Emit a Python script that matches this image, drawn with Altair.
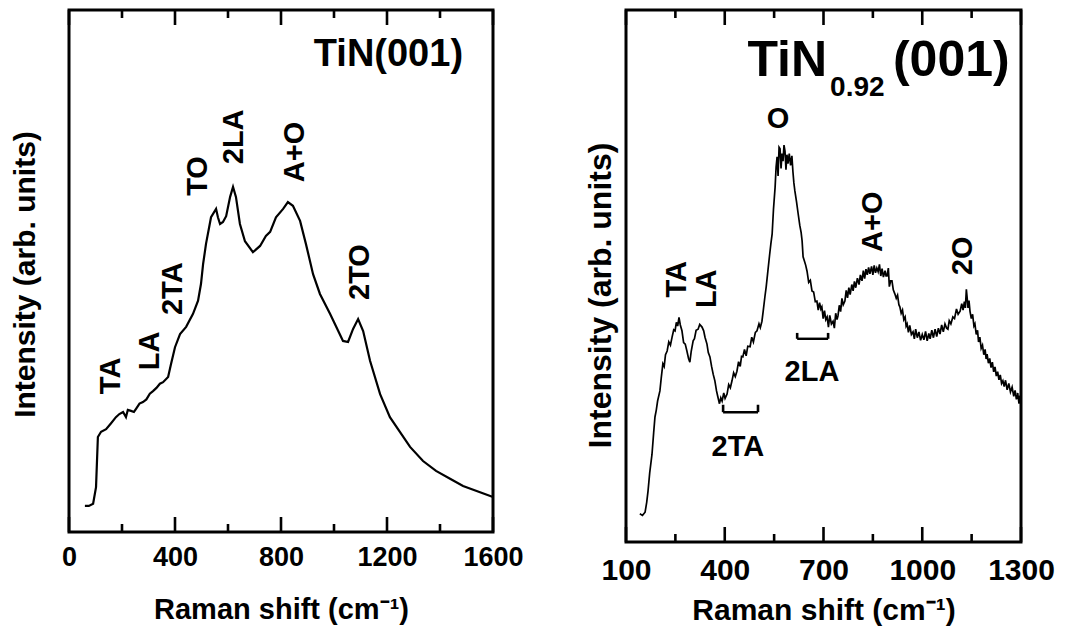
import altair as alt
import pandas as pd

FONT = "Liberation Sans"

# ---------------- Left panel: TiN(001) ----------------
left_shift = [60, 75, 91, 102, 109, 121, 140, 158, 177, 190,
              204, 215, 222, 234, 245, 253, 266, 279, 292, 305,
              317, 330, 343, 355, 374, 385, 400, 419, 442, 468,
              487, 498, 506, 517, 536, 555, 562, 570, 581, 593,
              608, 619, 630, 645, 664, 694, 721, 743, 759, 781,
              808, 826, 845, 872, 894, 921, 947, 985, 1034, 1053,
              1072, 1091, 1110, 1136, 1174, 1211, 1287, 1336, 1385, 1438, 1487, 1600]
left_int = [5.0, 5.0, 5.4, 8.6, 18.2, 19.2, 19.7, 20.8, 22.0, 22.6,
            23.0, 22.0, 23.4, 23.2, 23.0, 23.6, 24.6, 24.9, 25.4, 26.5,
            27.0, 27.6, 28.4, 28.7, 29.7, 32.2, 35.4, 37.9, 39.3, 41.8,
            44.3, 47.5, 51.3, 55.2, 60.3, 61.9, 60.3, 59.0, 59.4, 60.5,
            64.2, 66.1, 64.2, 59.0, 55.7, 53.6, 54.8, 56.7, 57.5, 60.3,
            61.9, 63.2, 62.5, 59.6, 55.2, 49.4, 45.6, 41.8, 36.6, 36.4,
            38.9, 40.8, 38.5, 32.8, 26.4, 22.0, 16.3, 13.6, 11.7, 10.2, 8.8, 6.7]

left_labels = ["TA", "LA", "2TA", "TO", "2LA", "A+O", "2TO"]
left_label_x = [158, 306, 392, 487, 623, 853, 1098]
left_label_y = [29.9, 34.7, 46.6, 68.2, 75.7, 72.8, 49.8]

left_major = [0, 400, 800, 1200, 1600]
left_minor = [200, 600, 1000, 1400]

# ---------------- Right panel: TiN0.92(001) ----------------
right_shift = [142, 150, 158, 163, 167, 172, 179, 184, 188, 192, 196, 203, 207, 212, 216, 220, 225, 230, 235, 240,
               245, 249, 253, 257, 261, 265, 270, 275, 280, 285, 290, 294, 298, 304, 308, 313, 319, 324, 331, 336,
               340, 346, 350, 355, 360, 365, 370, 375, 379, 384, 388, 392, 397, 401, 407, 412, 417, 422, 427, 432,
               437, 442, 447, 451, 455, 460, 465, 470, 477, 482, 487, 493, 498, 504, 508, 513, 517, 522, 526, 531,
               536, 540, 544, 548, 553, 556, 559, 562, 565, 568, 571, 574, 577, 580, 583, 586, 589, 592, 596, 600,
               604, 607, 610, 613, 618, 623, 628, 632, 635, 638, 642, 646, 650, 655, 660, 665, 670, 675, 680, 684,
               688, 692, 695, 699, 703, 707, 711, 715, 719, 724, 729, 733, 737, 741, 744, 748, 752, 756, 760, 765,
               769, 773, 777, 781, 786, 790, 794, 798, 803, 808, 812, 817, 821, 825, 829, 833, 837, 841, 846, 850,
               854, 858, 862, 866, 870, 874, 878, 882, 887, 890, 893, 897, 900, 904, 908, 912, 917, 921, 925, 929,
               932, 936, 940, 944, 948, 951, 954, 958, 962, 967, 972, 976, 980, 985, 990, 995, 1000, 1005, 1010, 1015,
               1020, 1024, 1029, 1034, 1039, 1044, 1049, 1054, 1059, 1064, 1069, 1074, 1078, 1082, 1087, 1093, 1098, 1104, 1109, 1115,
               1120, 1124, 1128, 1131, 1134, 1136, 1139, 1142, 1145, 1149, 1153, 1157, 1160, 1164, 1168, 1171, 1175, 1179, 1183, 1187,
               1191, 1194, 1197, 1201, 1205, 1209, 1213, 1217, 1221, 1225, 1229, 1233, 1237, 1241, 1245, 1249, 1253, 1258, 1263, 1268,
               1273, 1278, 1282, 1286, 1290, 1294, 1297, 1299]
right_int = [5.3, 5.0, 5.6, 7.5, 9.6, 13.0, 16.5, 20.5, 23.5, 24.8, 26.5, 28.4, 30.8, 33.5, 33.0, 35.2, 35.9, 37.6, 37.0, 38.5,
             39.9, 39.7, 41.3, 40.6, 42.2, 40.8, 39.7, 37.5, 37.2, 35.9, 34.5, 33.8, 35.8, 37.8, 38.2, 39.8, 40.0, 40.9, 40.4, 39.7,
             38.5, 37.2, 35.6, 34.8, 33.0, 31.5, 30.3, 28.4, 27.3, 26.0, 27.1, 26.5, 28.0, 27.0, 27.8, 29.6, 29.0, 30.3, 31.8, 31.1,
             32.1, 33.9, 33.0, 34.9, 34.8, 36.2, 35.0, 36.8, 36.7, 38.5, 37.6, 39.4, 39.7, 41.0, 40.3, 41.5, 43.5, 46.1, 48.0, 50.9,
             53.8, 56.0, 57.9, 62.5, 66.7, 70.5, 72.4, 68.8, 74.2, 73.9, 70.2, 73.0, 71.6, 74.6, 73.5, 70.0, 72.8, 71.1, 73.0, 70.8,
             72.6, 69.7, 67.5, 66.0, 64.0, 61.7, 59.5, 58.2, 56.6, 53.6, 52.8, 52.0, 50.9, 48.8, 49.2, 47.2, 47.0, 45.2, 45.3, 43.6,
             45.0, 43.8, 44.2, 42.0, 43.5, 41.8, 42.3, 40.4, 42.6, 41.0, 41.5, 40.2, 43.0, 41.8, 42.5, 44.5, 43.3, 45.8, 44.6, 45.3,
             47.3, 45.9, 47.8, 46.5, 48.4, 47.2, 49.0, 47.8, 49.6, 48.4, 50.2, 49.1, 51.0, 49.5, 51.3, 50.2, 51.6, 50.4, 51.8, 50.2,
             52.0, 50.6, 51.5, 50.8, 52.2, 50.0, 51.4, 49.8, 51.0, 50.0, 50.0, 51.5, 48.0, 49.1, 49.1, 47.4, 46.6, 45.8, 46.4, 44.6,
             44.2, 43.0, 43.6, 41.8, 42.3, 40.6, 41.0, 39.4, 40.7, 39.0, 39.5, 38.2, 40.0, 38.4, 39.5, 37.9, 39.0, 38.0, 39.6, 37.8,
             39.2, 38.2, 39.8, 38.4, 40.0, 38.6, 40.2, 39.1, 40.8, 39.5, 41.0, 40.2, 40.0, 41.6, 41.0, 42.3, 42.0, 43.8, 42.8, 43.4,
             44.8, 43.6, 45.2, 44.0, 47.5, 46.2, 44.0, 45.4, 43.4, 42.0, 42.8, 40.6, 41.0, 39.0, 39.8, 37.6, 38.5, 36.4, 37.0, 35.2,
             36.2, 34.4, 35.3, 33.6, 34.5, 32.8, 33.8, 32.0, 32.9, 31.2, 32.0, 30.5, 31.4, 29.8, 30.3, 29.2, 30.4, 28.6, 29.8, 28.2,
             29.1, 27.4, 28.5, 26.8, 28.0, 26.0, 27.5, 26.3]

right_rot_labels = ["TA", "LA", "A+O", "2O"]
right_rot_x = [255, 346, 850, 1124]
right_rot_y = [49.4, 47.6, 60.2, 53.8]

right_flat_labels = ["O", "2TA", "2LA"]
right_flat_x = [562, 440, 665]
right_flat_y = [79.5, 17.9, 32.0]

bracket_start = [395, 620]
bracket_end = [501, 714]
bracket_low = [24.4, 38.2]
bracket_high = [25.8, 39.3]

right_major = [100, 400, 700, 1000, 1300]
right_minor = [250, 550, 850, 1150]

W1, H1 = 424, 522
W2, H2 = 395, 532
MAJ_PX, MIN_PX = 15, 8   # inward tick lengths in pixels
TICK_W_PX = 2.6          # tick thickness in pixels

# ---------- shared scales and axes ----------
xs1 = alt.Scale(domain=[0, 1600], nice=False, zero=False)
ys1 = alt.Scale(domain=[0, 100], nice=False, zero=False)
xs2 = alt.Scale(domain=[100, 1300], nice=False, zero=False)
ys2 = alt.Scale(domain=[0, 100], nice=False, zero=False)

ax1x = alt.Axis(values=left_major, format="d", ticks=False, domain=False, grid=False,
                labelFont=FONT, labelFontSize=27, labelFontWeight="bold", labelColor="black",
                labelPadding=12, labelFlush=False,
                title="Raman shift (cm⁻¹)", titleFont=FONT, titleFontSize=29,
                titleFontWeight="bold", titleColor="black", titlePadding=25)
ax1y = alt.Axis(labels=False, ticks=False, domain=False, grid=False,
                title="Intensity (arb. units)", titleFont=FONT, titleFontSize=30,
                titleFontWeight="bold", titleColor="black", titleBaseline="alphabetic",
                titleX=-35, titleY=264)
ax2x = alt.Axis(values=right_major, format="d", ticks=False, domain=False, grid=False,
                labelFont=FONT, labelFontSize=30, labelFontWeight="bold", labelColor="black",
                labelPadding=13, labelFlush=False,
                title="Raman shift (cm⁻¹)", titleFont=FONT, titleFontSize=30,
                titleFontWeight="bold", titleColor="black", titlePadding=10)
ax2y = alt.Axis(labels=False, ticks=False, domain=False, grid=False,
                title="Intensity (arb. units)", titleFont=FONT, titleFontSize=32,
                titleFontWeight="bold", titleColor="black", titleBaseline="alphabetic",
                titleX=-16, titleY=285)


def tick_rects(major, minor, xspan, W, H, brackets=None):
    """Thin filled rectangles for the inward ticks (top and bottom) and bracket ends."""
    hw = 0.5 * TICK_W_PX * xspan / W
    rows = []
    for vals, L in ((major, MAJ_PX), (minor, MIN_PX)):
        f = 100.0 * L / H
        for v in vals:
            rows.append({"x1": v - hw, "x2": v + hw, "y1": 0.0, "y2": f})
            rows.append({"x1": v - hw, "x2": v + hw, "y1": 100.0 - f, "y2": 100.0})
    if brackets:
        for s, e, lo, hi in zip(*brackets):
            for p in (s, e):
                rows.append({"x1": p - hw, "x2": p + hw, "y1": lo, "y2": hi})
    return pd.DataFrame(rows)


def rect_layer(df, xs, ys, ax, ay):
    return alt.Chart(df).mark_rect(color="black").encode(
        x=alt.X("x1:Q", scale=xs, axis=ax), x2="x2:Q",
        y=alt.Y("y1:Q", scale=ys, axis=ay), y2="y2:Q")


def text_layer(df, xs, ys, ax, ay, **kw):
    return alt.Chart(df).mark_text(font=FONT, fontWeight="bold", color="black", **kw).encode(
        x=alt.X("x:Q", scale=xs, axis=ax), y=alt.Y("y:Q", scale=ys, axis=ay), text="t:N")


# ---------- left ----------
line1 = alt.Chart(pd.DataFrame({"shift": left_shift, "inten": left_int})).mark_line(
    color="black", strokeWidth=2.2).encode(
    x=alt.X("shift:Q", scale=xs1, axis=ax1x),
    y=alt.Y("inten:Q", scale=ys1, axis=ax1y),
)
lab1 = text_layer(pd.DataFrame({"t": left_labels, "x": left_label_x, "y": left_label_y}),
                  xs1, ys1, ax1x, ax1y, angle=270, fontSize=29, align="center", baseline="middle")
title1 = text_layer(pd.DataFrame({"t": ["TiN(001)"], "x": [1487], "y": [89.3]}),
                    xs1, ys1, ax1x, ax1y, fontSize=38, align="right", baseline="alphabetic")
ticks1 = rect_layer(tick_rects(left_major, left_minor, 1600.0, W1, H1), xs1, ys1, ax1x, ax1y)

left = alt.layer(line1, lab1, title1, ticks1).properties(width=W1, height=H1)

# ---------- right ----------
line2 = alt.Chart(pd.DataFrame({"shift": right_shift, "inten": right_int})).mark_line(
    color="black", strokeWidth=1.7).encode(
    x=alt.X("shift:Q", scale=xs2, axis=ax2x),
    y=alt.Y("inten:Q", scale=ys2, axis=ax2y),
)
rot2 = text_layer(pd.DataFrame({"t": right_rot_labels, "x": right_rot_x, "y": right_rot_y}),
                  xs2, ys2, ax2x, ax2y, angle=270, fontSize=29, align="center", baseline="middle")
flat2 = text_layer(pd.DataFrame({"t": right_flat_labels, "x": right_flat_x, "y": right_flat_y}),
                   xs2, ys2, ax2x, ax2y, fontSize=29, align="center", baseline="middle")

br = pd.DataFrame({"s": bracket_start, "e": bracket_end, "lo": bracket_low})
br_h = alt.Chart(br).mark_rule(color="black", strokeWidth=2.4).encode(
    x=alt.X("s:Q", scale=xs2, axis=ax2x), x2="e:Q", y=alt.Y("lo:Q", scale=ys2, axis=ax2y))
ticks2 = rect_layer(tick_rects(right_major, right_minor, 1200.0, W2, H2,
                               (bracket_start, bracket_end, bracket_low, bracket_high)),
                    xs2, ys2, ax2x, ax2y)

t_main = text_layer(pd.DataFrame({"t": ["TiN"], "x": [711], "y": [87.6]}),
                    xs2, ys2, ax2x, ax2y, fontSize=50, align="right", baseline="alphabetic")
t_sub = text_layer(pd.DataFrame({"t": ["0.92"], "x": [720], "y": [83.8]}),
                   xs2, ys2, ax2x, ax2y, fontSize=28, align="left", baseline="alphabetic")
t_end = text_layer(pd.DataFrame({"t": ["(001)"], "x": [911], "y": [87.6]}),
                   xs2, ys2, ax2x, ax2y, fontSize=50, align="left", baseline="alphabetic")

right = alt.layer(line2, rot2, flat2, br_h, ticks2, t_main, t_sub, t_end).properties(width=W2, height=H2)

chart = alt.hconcat(left, right, spacing=57).properties(
    padding={"left": 0, "top": 0, "right": 0, "bottom": 0}
).configure_view(stroke="black", strokeWidth=3)

chart.save("out.html", embed_options={"renderer": "svg", "actions": False})
